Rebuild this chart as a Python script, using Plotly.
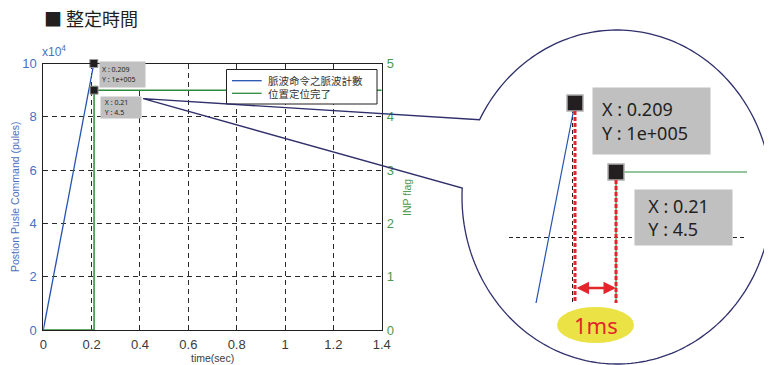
import numpy as np
import plotly.graph_objects as go

# the page body keeps an 8 px margin, so the figure is 8 px smaller and all
# layout positions below (in reference-image pixels) are shifted by it
OFF = 8
W, H = 772 - OFF, 365 - OFF

# ---- data ----
time_cmd = [0.0, 0.209]
pulse_cmd = [0, 100000]
time_inp = [0.0, 0.21, 0.21, 1.4]
inp_flag = [0, 0, 4.5, 4.5]
tip_cmd = (0.209, 100000)
tip_inp = (0.21, 4.5)

x_ticks = [0, 0.2, 0.4, 0.6, 0.8, 1.0, 1.2, 1.4]
x_ticktext = ["0", "0.2", "0.4", "0.6", "0.8", "1", "1.2", "1.4"]
y_ticks = [0, 20000, 40000, 60000, 80000, 100000]
y_ticktext = ["0", "2", "4", "6", "8", "10"]
y2_ticks = [0, 1, 2, 3, 4, 5]

legend_names = ["脈波命令之脈波計數", "位置定位完了"]
tip_texts = ["X : 0.209<br>Y : 1e+005", "X : 0.21<br>Y : 4.5"]

# zoomed view (magnifier) ranges
zoom_x = [0.20739, 0.213195]
zoom_y = [99545, 100018.2]
zoom_y2 = [3.4923, 5.0923]

BLUE = "#2553b0"
GREEN = "#2f8b3c"
BLUE_TXT = "#4a70c0"
GREEN_TXT = "#4c9a4c"
DARK = "#231f20"
NAVY = "#2e2f6b"
RED = "#e4262c"
GRAY_BOX = "#c0c0c0"
CJK = "Noto Sans CJK TC"
LAT = "Liberation Sans, Arial"


def px(x):
    return (x - OFF) / W


def py(y):
    return 1 - (y - OFF) / H


fig = go.Figure()

# main chart
fig.add_trace(go.Scatter(x=time_cmd, y=pulse_cmd, mode="lines",
                         line=dict(color=BLUE, width=1.3), xaxis="x", yaxis="y"))
fig.add_trace(go.Scatter(x=time_inp, y=inp_flag, mode="lines",
                         line=dict(color=GREEN, width=1.5), xaxis="x", yaxis="y2"))
fig.add_trace(go.Scatter(x=[tip_cmd[0]], y=[tip_cmd[1]], mode="markers", cliponaxis=False,
                         marker=dict(symbol="square", size=8, color=DARK,
                                     line=dict(color="#9a9a9a", width=1)),
                         xaxis="x", yaxis="y"))
fig.add_trace(go.Scatter(x=[tip_inp[0]], y=[tip_inp[1]], mode="markers", cliponaxis=False,
                         marker=dict(symbol="square", size=8, color=DARK,
                                     line=dict(color="#9a9a9a", width=1)),
                         xaxis="x", yaxis="y2"))

# magnified view, same data on zoomed axes
fig.add_trace(go.Scatter(x=time_cmd, y=pulse_cmd, mode="lines",
                         line=dict(color=BLUE, width=1.2), xaxis="x3", yaxis="y3"))
fig.add_trace(go.Scatter(x=time_inp, y=inp_flag, mode="lines",
                         line=dict(color=GREEN, width=1.2), xaxis="x3", yaxis="y4"))
fig.add_trace(go.Scatter(x=[tip_cmd[0]], y=[tip_cmd[1]], mode="markers", cliponaxis=False,
                         marker=dict(symbol="square", size=16, color=DARK,
                                     line=dict(color="#b0b0b0", width=1.5)),
                         xaxis="x3", yaxis="y3"))
fig.add_trace(go.Scatter(x=[tip_inp[0]], y=[tip_inp[1]], mode="markers", cliponaxis=False,
                         marker=dict(symbol="square", size=16, color=DARK,
                                     line=dict(color="#b0b0b0", width=1.5)),
                         xaxis="x3", yaxis="y4"))

grid = dict(showgrid=True, gridcolor="#2a2a2a", gridwidth=1, griddash="5px,4px")

fig.update_layout(
    width=W, height=H,
    margin=dict(l=0, r=0, t=0, b=0),
    paper_bgcolor="white", plot_bgcolor="white",
    showlegend=False,
    xaxis=dict(domain=[px(43.3), px(381.7)], range=[0, 1.4], anchor="y", automargin=False,
               tickvals=x_ticks, ticktext=x_ticktext, ticks="", zeroline=False,
               showline=True, mirror=True, linecolor=DARK, linewidth=1,
               ticklabelstandoff=2,
               tickfont=dict(family=LAT, size=13, color="#3a3a3a"), **grid),
    yaxis=dict(domain=[py(330), py(63.5)], range=[0, 100000], anchor="x", automargin=False,
               tickvals=y_ticks, ticktext=y_ticktext, ticks="", zeroline=False,
               showline=True, mirror=True, linecolor=DARK, linewidth=1,
               ticklabelstandoff=3,
               tickfont=dict(family=LAT, size=13, color=BLUE_TXT), **grid),
    yaxis2=dict(overlaying="y", side="right", anchor="x", range=[0, 5], automargin=False,
                tickvals=y2_ticks, ticks="", zeroline=False, showgrid=False,
                showline=False, ticklabelstandoff=4,
                tickfont=dict(family=LAT, size=13, color=GREEN_TXT)),
    xaxis3=dict(domain=[px(509), px(747)], range=zoom_x, anchor="y3", automargin=False,
                tickvals=[0.20895], showticklabels=False, ticks="", zeroline=False,
                showline=False, showgrid=True, gridcolor="#222", griddash="4px,3px"),
    yaxis3=dict(domain=[py(303), py(95)], range=zoom_y, anchor="x3", automargin=False,
                showticklabels=False, ticks="", zeroline=False, showgrid=False,
                showline=False),
    yaxis4=dict(overlaying="y3", side="right", anchor="x3", range=zoom_y2, automargin=False,
                tickvals=[4], showticklabels=False, ticks="", zeroline=False,
                showline=False, showgrid=True, gridcolor="#222", griddash="4px,3px"),
)

shapes = []

# legend box
shapes.append(dict(type="rect", xref="paper", yref="paper",
                   x0=px(226.5), x1=px(377), y0=py(104), y1=py(69.5),
                   fillcolor="white", line=dict(color=DARK, width=1)))
for yy, col in [(80.7, BLUE), (93.3, GREEN)]:
    shapes.append(dict(type="line", xref="paper", yref="paper",
                       x0=px(232), x1=px(261.7), y0=py(yy), y1=py(yy),
                       line=dict(color=col, width=1.3)))

# magnifier callout outline (ellipse with an opening towards the source point)
cx, cy, rx, ry = 617, 197, 155, 167
src = (143.3, 98.7)
a1 = np.degrees(np.arctan2((120 - cy) / ry, (480 - cx) / rx)) % 360
a2 = np.degrees(np.arctan2((188 - cy) / ry, (462 - cx) / rx)) % 360 + 360
ang = np.radians(np.linspace(a1, a2, 240))
pts = [src] + list(zip(cx + rx * np.cos(ang), cy + ry * np.sin(ang))) + [src]
path = "M " + " L ".join(f"{px(x):.5f},{py(y):.5f}" for x, y in pts)
shapes.append(dict(type="path", xref="paper", yref="paper", path=path,
                   line=dict(color=NAVY, width=1.3)))

# red dashed guides in the magnified view
for t, ytop in [(tip_cmd[0], 111), (tip_inp[0], 180)]:
    shapes.append(dict(type="line", xref="x3", yref="paper",
                       x0=t, x1=t, y0=py(ytop), y1=py(303),
                       line=dict(color=RED, width=3, dash="4px,2px")))

# yellow ellipse behind "1ms"
mid = (tip_cmd[0] + tip_inp[0]) / 2
half = 38.5 / 41000
shapes.append(dict(type="circle", xref="x3", yref="paper",
                   x0=mid - half, x1=mid + half, y0=py(343), y1=py(307),
                   fillcolor="#ebe346", line=dict(width=0)))

fig.update_layout(shapes=shapes)


def label(x, y, text, size, color, family=LAT, xanchor="center", angle=0):
    return dict(xref="paper", yref="paper", x=px(x), y=py(y), xanchor=xanchor,
                yanchor="middle", showarrow=False, text=text, textangle=angle,
                font=dict(family=family, size=size, color=color))


ann = [
    label(42, 18, "■ 整定時間", 18, DARK, CJK, "left"),
    label(40, 51, "x10<sup>4</sup>", 12, BLUE_TXT, xanchor="left"),
    label(15, 197, "Postion Pusle Command (pules)", 10.5, BLUE_TXT, angle=-90),
    label(407, 197, "INP flag", 10.5, GREEN_TXT, angle=-90),
    label(212, 358, "time(sec)", 10.5, "#3a3a3a"),
]
for yy, name in zip([80.7, 93.3], legend_names):
    ann.append(label(266, yy, name, 10.5, "#333", CJK, "left"))

# data tips, main chart
ann.append(dict(xref="x", yref="y", x=tip_cmd[0], y=tip_cmd[1], xanchor="left",
                yanchor="top", xshift=5, yshift=3, showarrow=False, text=tip_texts[0],
                align="left", bgcolor=GRAY_BOX, borderpad=2, width=41, height=21,
                font=dict(family="Noto Sans", size=7, color=DARK)))
ann.append(dict(xref="x", yref="y2", x=tip_inp[0], y=tip_inp[1], xanchor="left",
                yanchor="top", xshift=6, yshift=-6, showarrow=False,
                text="&nbsp;" + tip_texts[1].replace("<br>", "<br>&nbsp;"),
                align="left", bgcolor=GRAY_BOX, borderpad=2, width=36, height=17,
                font=dict(family="Noto Sans", size=7, color=DARK)))

# data tips, magnified view
ann.append(dict(xref="x3", yref="y3", x=tip_cmd[0], y=tip_cmd[1], xanchor="left",
                yanchor="top", xshift=17, yshift=16, showarrow=False, text=tip_texts[0],
                align="left", bgcolor=GRAY_BOX, borderpad=9, width=99, height=48,
                font=dict(family="Noto Sans", size=18, color=DARK)))
ann.append(dict(xref="x3", yref="y4", x=tip_inp[0], y=tip_inp[1], xanchor="left",
                yanchor="top", xshift=18, yshift=-17, showarrow=False,
                text="&nbsp;&nbsp;" + tip_texts[1].replace("<br>", "<br>&nbsp;&nbsp;"),
                align="left", bgcolor=GRAY_BOX, borderpad=4, width=89, height=47,
                font=dict(family="Noto Sans", size=18, color=DARK)))

# 1 ms double arrow and label
ann.append(dict(xref="x3", yref="paper", x=tip_inp[0], y=py(288),
                axref="x3", ayref="pixel", ax=tip_cmd[0], ay=0, text="",
                showarrow=True, arrowside="end+start", arrowhead=2, arrowsize=1,
                arrowwidth=2.5, arrowcolor=RED, standoff=0, startstandoff=0))
ann.append(dict(xref="x3", yref="paper", x=mid, y=py(325), xanchor="center",
                yanchor="middle", showarrow=False,
                text="1ms", font=dict(family="Noto Sans", size=22, color=RED)))

fig.update_layout(annotations=ann)

fig.write_html("out.html")
